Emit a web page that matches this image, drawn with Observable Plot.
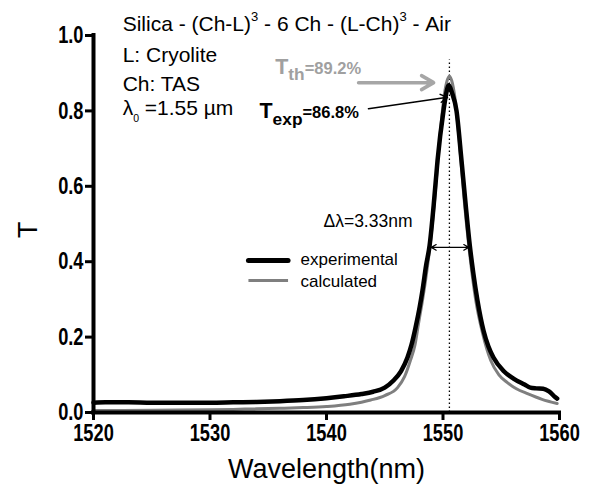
<!DOCTYPE html>
<html><head><meta charset="utf-8">
<script src="https://cdn.jsdelivr.net/npm/d3@7"></script>
<script src="https://cdn.jsdelivr.net/npm/@observablehq/plot@0.6"></script>
<style>body{margin:0;background:#fff}</style>
</head><body><div id="chart"></div>
<script>
// ---- data ----
const expWavelength = [1520,1521,1523,1525,1528,1530,1532,1534,1536,1538,1540,1541.5,1543,1544,1545,1545.75,1546.4,1546.95,1547.3,1547.64,1548.0,1548.24,1548.55,1548.85,1549.2,1549.53,1550.04,1550.3,1550.5,1550.75,1551.16,1551.59,1551.95,1552.3,1552.6,1552.96,1553.48,1553.9,1554.33,1555.2,1556.05,1557.0,1557.5,1558.0,1558.6,1559.1,1559.66,1559.8];
const expT = [0.026,0.027,0.027,0.026,0.026,0.026,0.027,0.028,0.030,0.033,0.038,0.043,0.049,0.055,0.066,0.085,0.11,0.146,0.18,0.225,0.28,0.324,0.39,0.443,0.55,0.668,0.80,0.85,0.868,0.85,0.80,0.668,0.55,0.443,0.37,0.297,0.217,0.175,0.146,0.11,0.09,0.074,0.066,0.064,0.063,0.056,0.04,0.037];
const calcWavelength = [1520,1525,1530,1533,1536,1538,1540,1542,1543.8,1545,1546.1,1546.7,1547.2,1547.6,1547.9,1548.2,1548.5,1548.9,1549.3,1549.7,1550.1,1550.35,1550.55,1550.75,1551.0,1551.4,1551.8,1552.2,1552.8,1553.4,1554.1,1554.8,1555.5,1556.3,1557.25,1558.5,1559.8];
const calcT = [0.005,0.006,0.007,0.009,0.011,0.013,0.016,0.022,0.033,0.045,0.066,0.095,0.138,0.18,0.236,0.29,0.35,0.446,0.57,0.72,0.84,0.88,0.892,0.88,0.84,0.72,0.57,0.446,0.30,0.21,0.138,0.10,0.08,0.063,0.05,0.035,0.024];
const seriesNames = ["experimental", "calculated"];
const xTicks = [1520, 1530, 1540, 1550, 1560];
const yTicks = [0, 0.2, 0.4, 0.6, 0.8, 1.0];
const peakWavelength = 1550.55;
const fwhmEdges = [1549.0, 1552.2];
const fwhmLevel = 0.438;
const infoLines = ["Silica - (Ch-L)^{3} - 6 Ch - (L-Ch)^{3} - Air", "L: Cryolite", "Ch: TAS", "λ_{0} =1.55 µm"];
const labelTth = "#{T}~{th}=89.2%";
const labelTexp = "#{T}~{exp}=86.8%";
const labelFwhm = "Δλ=3.33nm";

// ---- annotation anchors (data units) ----
const infoX = 1522.5, infoY = [1.013, 0.93, 0.854, 0.788];
const tthAnchor = {x: 1535.6, y: 0.899}, tthArrow = {x1: 1542.75, x2: 1549.2, y: 0.875};
const texpAnchor = {x: 1534.25, y: 0.780}, texpArrow = {x1: 1543.6, y1: 0.806, x2: 1550.39, y2: 0.836};
const fwhmText = {x: 1539.74, y: 0.493};
const legendX = [1533.3, 1536.7], legendTextX = 1537.77, legendLineY = [0.403, 0.350], legendTextY = [0.39, 0.334];

const expData = expWavelength.map((w, i) => ({w, T: expT[i]}));
const calcData = calcWavelength.map((w, i) => ({w, T: calcT[i]}));
const F = "'Liberation Sans', Arial, Helvetica, sans-serif";

const chart = Plot.plot({
  width: 591, height: 490,
  marginLeft: 93, marginRight: 32, marginTop: 35, marginBottom: 78,
  x: {domain: [1520, 1560]},
  y: {domain: [0, 1]},
  style: {fontFamily: F, background: "white", color: "black", overflow: "visible"},
  marks: [
    Plot.ruleX([peakWavelength], {y1: 0, y2: 0.935, stroke: "black", strokeWidth: 1.3, strokeDasharray: "1.5,2.5"}),
    Plot.line(calcData, {x: "w", y: "T", stroke: "#7f7f7f", strokeWidth: 3, curve: "monotone-x"}),
    Plot.line(expData, {x: "w", y: "T", stroke: "black", strokeWidth: 4.5, curve: "monotone-x"}),
    Plot.axisX({ticks: xTicks, tickSize: 8, tickPadding: 3, strokeWidth: 3, fontSize: 24, fontWeight: "bold", tickFormat: "d", label: null}),
    Plot.axisY({ticks: yTicks, tickSize: 8, tickPadding: 2, strokeWidth: 3, fontSize: 24, fontWeight: "bold", tickFormat: ".1f", label: null}),
    Plot.ruleX([1520], {stroke: "black", strokeWidth: 4, strokeLinecap: "square"}),
    Plot.ruleY([0], {stroke: "black", strokeWidth: 4, strokeLinecap: "square"}),
    // FWHM double arrow
    Plot.arrow(fwhmEdges, {x1: peakWavelength, x2: d => d, y1: fwhmLevel, y2: fwhmLevel, stroke: "black", strokeWidth: 1.2, headLength: 7}),
    Plot.text([labelFwhm], {x: fwhmText.x, y: fwhmText.y, textAnchor: "start", lineAnchor: "bottom", fontSize: 17.5}),
    // peak arrows
    Plot.arrow([0], {x1: tthArrow.x1, x2: tthArrow.x2, y1: tthArrow.y, y2: tthArrow.y, stroke: "#a6a6a6", strokeWidth: 3.5, headLength: 6}),
    Plot.arrow([0], {x1: texpArrow.x1, x2: texpArrow.x2, y1: texpArrow.y1, y2: texpArrow.y2, stroke: "black", strokeWidth: 1.5, headLength: 8}),
    Plot.text([labelTth], {x: tthAnchor.x, y: tthAnchor.y, textAnchor: "start", lineAnchor: "bottom", fontSize: 16.5, fontWeight: "bold", fill: "#a0a0a0"}),
    Plot.text([labelTexp], {x: texpAnchor.x, y: texpAnchor.y, textAnchor: "start", lineAnchor: "bottom", fontSize: 16.5, fontWeight: "bold", fill: "black"}),
    // info block
    Plot.text(infoLines, {x: infoX, y: (d, i) => infoY[i], text: d => d, textAnchor: "start", lineAnchor: "bottom", fontSize: 21}),
    // legend
    Plot.link([seriesNames[0]], {x1: legendX[0], x2: legendX[1], y1: legendLineY[0], y2: legendLineY[0], stroke: "black", strokeWidth: 5, strokeLinecap: "round"}),
    Plot.link([seriesNames[1]], {x1: legendX[0], x2: legendX[1], y1: legendLineY[1], y2: legendLineY[1], stroke: "#7f7f7f", strokeWidth: 3}),
    Plot.text(seriesNames, {x: legendTextX, y: (d, i) => legendTextY[i], text: d => d, textAnchor: "start", lineAnchor: "bottom", fontSize: 17}),
    // axis titles
    Plot.text(["T"], {frameAnchor: "left", dx: -65, dy: 14, rotate: -90, fontSize: 27}),
    Plot.text(["Wavelength(nm)"], {frameAnchor: "bottom", lineAnchor: "bottom", dy: 65, fontSize: 27})
  ]
});
document.getElementById("chart").appendChild(chart);

// rich text: ^{sup}, _{small sub}, ~{large sub}, #{bigger}
function richify(svg) {
  const NS = "http://www.w3.org/2000/svg";
  svg.querySelectorAll("text").forEach(el => {
    const s = el.textContent;
    if (!/[_^~#]\{/.test(s)) return;
    const B = parseFloat(getComputedStyle(el).fontSize);
    el.textContent = "";
    const re = /([_^~#])\{([^}]*)\}|([^_^~#]+)/g;
    let m, shift = 0;
    while ((m = re.exec(s))) {
      const t = document.createElementNS(NS, "tspan");
      let target = 0, size = B;
      if (m[1] === "^") { target = -0.48 * B; size = 0.62 * B; }
      else if (m[1] === "_") { target = 0.33 * B; size = 0.5 * B; }
      else if (m[1] === "~") { target = 0.4 * B; size = 1.05 * B; }
      else if (m[1] === "#") { size = 1.3 * B; }
      t.textContent = (m[1] ? m[2] : m[3]).replace(/ /g, "\u00A0");
      t.setAttribute("font-size", size);
      const d = target - shift;
      if (d) t.setAttribute("dy", d);
      shift = target;
      el.appendChild(t);
    }
  });
}
richify(chart);

// condensed bold tick labels (as in the reference): squeeze glyphs in place
chart.querySelectorAll('g[aria-label$="tick label"] text').forEach(el => {
  const w = el.getComputedTextLength();
  if (w > 0) {
    el.setAttribute("textLength", (w * 0.76).toFixed(2));
    el.setAttribute("lengthAdjust", "spacingAndGlyphs");
  }
});
</script>
</body></html>
